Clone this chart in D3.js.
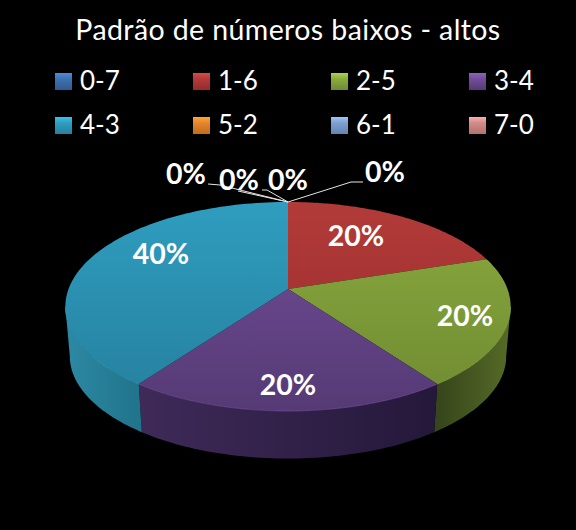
<!DOCTYPE html>
<html>
<head>
<meta charset="utf-8">
<script src="https://cdn.jsdelivr.net/npm/d3@7"></script>
<style>
  html, body { margin: 0; background: #000; }
  svg { display: block; }
  text { font-family: Lato, "Open Sans", sans-serif; fill: #fff; }
</style>
</head>
<body>
<div id="chart"></div>
<script>
const title = "Padrão de números baixos - altos";
const categories = ["0-7", "1-6", "2-5", "3-4", "4-3", "5-2", "6-1", "7-0"];
const values = [0, 1, 1, 1, 2, 0, 0, 0];
const colors = ["#3f72b0", "#b23b39", "#8aab3f", "#734e99", "#2f9dbf", "#e5862d", "#7f9fcf", "#d08c8a"];
const lowColors = ["#2f5a90", "#962b2b", "#6f8a31", "#553a75", "#267f9d", "#c06c1d", "#6484b4", "#b07270"];
const sideLeft = ["#2f5a90", "#6b2020", "#36451b", "#3f2a58", "#2d89a4", "#a05a18", "#5470a0", "#906060"];
const sideRight = ["#2f5a90", "#4b1515", "#566b27", "#24183a", "#20748b", "#a05a18", "#5470a0", "#906060"];

const width = 576, height = 530;
const cx = 288, cy = 289, rx = 219.5, ry = 101.6, persp = 0.1674, depth = 50;

const svg = d3.select("#chart").append("svg").attr("width", width).attr("height", height);
const defs = svg.append("defs");

svg.append("rect").attr("width", width).attr("height", height).attr("fill", "#000");

svg.append("text")
  .attr("x", 288).attr("y", 40)
  .attr("text-anchor", "middle")
  .attr("font-size", 28.5)
  .attr("letter-spacing", 0.4)
  .text(title);

// legend
const legendX = d3.scalePoint().domain(d3.range(4)).range([55, 469]);
const legendY = d3.scalePoint().domain(d3.range(2)).range([73, 117]);

categories.forEach((c, i) => {
  const id = "sw" + i;
  const g = defs.append("linearGradient").attr("id", id).attr("x1", 0).attr("x2", 0).attr("y1", 0).attr("y2", 1);
  g.append("stop").attr("offset", "0%").attr("stop-color", d3.rgb(colors[i]).brighter(0.6));
  g.append("stop").attr("offset", "35%").attr("stop-color", colors[i]);
  g.append("stop").attr("offset", "100%").attr("stop-color", lowColors[i]);
  const x = legendX(i % 4), y = legendY(Math.floor(i / 4));
  svg.append("rect").attr("x", x).attr("y", y).attr("width", 17).attr("height", 17).attr("fill", `url(#${id})`);
  svg.append("text").attr("x", x + 25).attr("y", y + 17).attr("font-size", 26).text(c);
});

// perspective ellipse, angle measured clockwise from the top
function project(a, z = 0) {
  const u = Math.sin(a), v = -Math.cos(a);
  const s = (1 / (1 - persp * v)) * (1 - z * 0.02);
  return [cx + rx * u * s, cy + z * depth + ry * v * s];
}

const pie = d3.pie().sort(null).value((d) => d);
const arcs = pie(values);
const line = d3.line();

// only the part of the rim that faces the viewer gets a side wall
const frontFrom = Math.PI - Math.acos(persp), frontTo = Math.PI + Math.acos(persp);
const rimAngles = (a0, a1, n) => d3.range(0, n + 1).map((k) => a0 + ((a1 - a0) * k) / n);

arcs.forEach((d, i) => {
  const a0 = Math.max(d.startAngle, frontFrom), a1 = Math.min(d.endAngle, frontTo);
  if (d.value === 0 || a1 <= a0) return;
  const ts = rimAngles(a0, a1, 60);
  const top = ts.map((a) => project(a));
  const bottom = ts.map((a) => project(a, 1)).reverse();
  const xs = top.map((p) => p[0]);
  const id = "side" + i;
  const g = defs.append("linearGradient").attr("id", id).attr("gradientUnits", "userSpaceOnUse")
    .attr("x1", d3.min(xs)).attr("x2", d3.max(xs)).attr("y1", 0).attr("y2", 0);
  g.append("stop").attr("offset", "0%").attr("stop-color", sideLeft[i]);
  g.append("stop").attr("offset", "100%").attr("stop-color", sideRight[i]);
  svg.append("path").attr("d", line([...top, ...bottom]) + "Z").attr("fill", `url(#${id})`);
});

// top faces
arcs.forEach((d, i) => {
  if (d.value === 0) return;
  const pts = [[cx, cy], ...rimAngles(d.startAngle, d.endAngle, 90).map((a) => project(a))];
  const id = "top" + i;
  const g = defs.append("linearGradient").attr("id", id).attr("gradientUnits", "userSpaceOnUse")
    .attr("x1", 0).attr("x2", 0).attr("y1", 202).attr("y2", 411);
  g.append("stop").attr("offset", "0%").attr("stop-color", colors[i]);
  g.append("stop").attr("offset", "100%").attr("stop-color", lowColors[i]);
  svg.append("path").attr("d", line(pts) + "Z").attr("fill", `url(#${id})`);
});

// thin highlight along the front rim
arcs.forEach((d, i) => {
  const a0 = Math.max(d.startAngle, frontFrom), a1 = Math.min(d.endAngle, frontTo);
  if (d.value === 0 || a1 <= a0) return;
  svg.append("path").attr("d", line(rimAngles(a0, a1, 60).map((a) => project(a))))
    .attr("fill", "none").attr("stroke", d3.rgb(colors[i]).brighter(0.5))
    .attr("stroke-opacity", 0.45).attr("stroke-width", 1);
});

// data labels, in series order: 0-7, 1-6, 2-5, 3-4, 4-3, 5-2, 6-1, 7-0
const percent = d3.format(".0%");
const total = d3.sum(values);
const labelAt = [[186, 174], [356, 236], [465, 316], [288, 385], [161, 254], [239, 180], [288, 180], [385, 172]];
const leaders = [
  [[208, 184], [220, 185], [288, 202]],
  null, null, null, null,
  [[238, 191], [288, 202]],
  [[262, 190], [267, 190], [288, 202]],
  [[363, 182], [351, 182], [288, 202]],
];

leaders.forEach((pts) => {
  if (!pts) return;
  svg.append("path").attr("d", line(pts)).attr("fill", "none").attr("stroke", "#e6e6e6").attr("stroke-width", 1);
});

values.forEach((v, i) => {
  svg.append("text")
    .attr("x", labelAt[i][0]).attr("y", labelAt[i][1])
    .attr("dy", "0.35em")
    .attr("text-anchor", "middle")
    .attr("font-size", 28.5)
    .attr("font-weight", 700)
    .text(percent(v / total));
});
</script>
</body>
</html>
